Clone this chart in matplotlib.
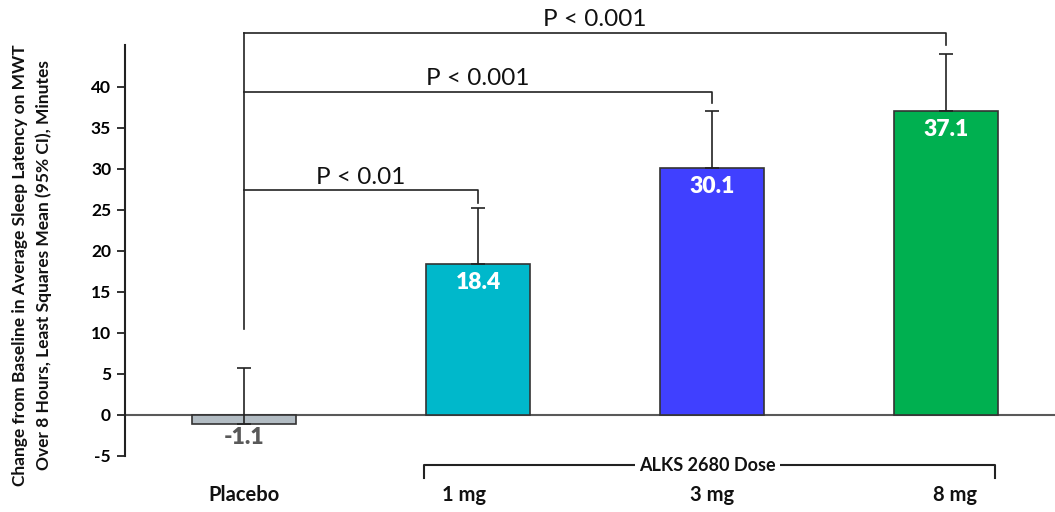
import matplotlib
matplotlib.use("Agg")
import matplotlib.pyplot as plt

plt.rcParams['font.family'] = ['Lato', 'DejaVu Sans']

categories = ["Placebo", "1 mg", "3 mg", "8 mg"]
values = [-1.1, 18.4, 30.1, 37.1]
ci_upper = [6.8, 6.8, 6.9, 6.9]
value_labels = ["-1.1", "18.4", "30.1", "37.1"]
colors = ["#B2BCC3", "#00B8CB", "#4040FF", "#00B050"]
label_colors = ["#595959", "white", "white", "white"]
yticks = [-5, 0, 5, 10, 15, 20, 25, 30, 35, 40]
p_texts = ["P < 0.01", "P < 0.001", "P < 0.001"]
bracket_y = [27.4, 39.4, 46.6]
bracket_drop = [25.9, 38.0, 45.1]
group_label = "ALKS 2680 Dose"

W, H = 1055, 512
fig = plt.figure(figsize=(W / 100, H / 100), dpi=100)
ax = fig.add_axes([125 / W, (512 - 456) / H, (1055 - 125) / W, (456 - 45) / H])

x = list(range(len(categories)))
ax.bar(x, values, width=0.445, color=colors, edgecolor="#333333", linewidth=1.2, zorder=2)
ax.errorbar(x, values, yerr=[[0] * 4, ci_upper], fmt="none", ecolor="#222222",
            elinewidth=1.2, capsize=5, capthick=1.2, zorder=3)

ax.set_xlim(-0.509, 3.466)
ax.set_ylim(-5, 45.1)
ax.axhline(0, color="#595959", linewidth=1.5, zorder=1)

ax.set_yticks(yticks)
ax.set_yticklabels([str(t) for t in yticks], fontsize=12.5, fontweight="bold")
ax.tick_params(axis="y", direction="out", length=6, width=1.3, color="#222222", pad=4)
ax.set_xticks([])
for s in ["top", "right", "bottom"]:
    ax.spines[s].set_visible(False)
ax.spines["left"].set_linewidth(1.5)
ax.spines["left"].set_color("#222222")

# value labels
for xi, v, lab, c in zip(x, values, value_labels, label_colors):
    yy = v - 2.3 if v > 0 else v - 1.6
    ax.text(xi, yy, lab, ha="center", va="center", fontsize=16.5, fontweight="heavy",
            color=c, zorder=4)

# significance brackets
ax.plot([0, 0], [10.5, bracket_y[-1]], color="#222222", lw=1.2, clip_on=False, zorder=3)
for i, (by, bd, pt) in enumerate(zip(bracket_y, bracket_drop, p_texts)):
    xr = x[i + 1]
    ax.plot([0, xr, xr], [by, by, bd], color="#222222", lw=1.2, clip_on=False, zorder=3)
    ax.text(xr / 2, by + 0.3, pt, ha="center", va="bottom", fontsize=17.5,
            color="#111111", clip_on=False)

# dose bracket
gy, gt = -6.1, -7.7
ax.plot([0.769, 0.769, 3.209, 3.209], [gt, gy, gy, gt], color="#222222", lw=1.5,
        clip_on=False)
ax.text(1.98, gy, group_label, ha="center", va="center", fontsize=13, fontweight="bold",
        color="#111111", bbox=dict(facecolor="white", edgecolor="none", pad=3), clip_on=False)

# category labels
label_dx = [0.0, -0.06, 0.0, 0.04]
for xi, cat, dx in zip(x, categories, label_dx):
    ax.text(xi + dx, -9.75, cat, ha="center", va="center", fontsize=14.5, fontweight="bold",
            color="#111111", clip_on=False)

fig.text(32 / W, (512 - 265) / H,
         "Change from Baseline in Average Sleep Latency on MWT\nOver 8 Hours, Least Squares Mean (95% CI), Minutes",
         rotation=90, ha="center", va="center", fontsize=12.5, fontweight="bold",
         linespacing=1.5, color="#111111")

fig.savefig("out.png", dpi=100)
